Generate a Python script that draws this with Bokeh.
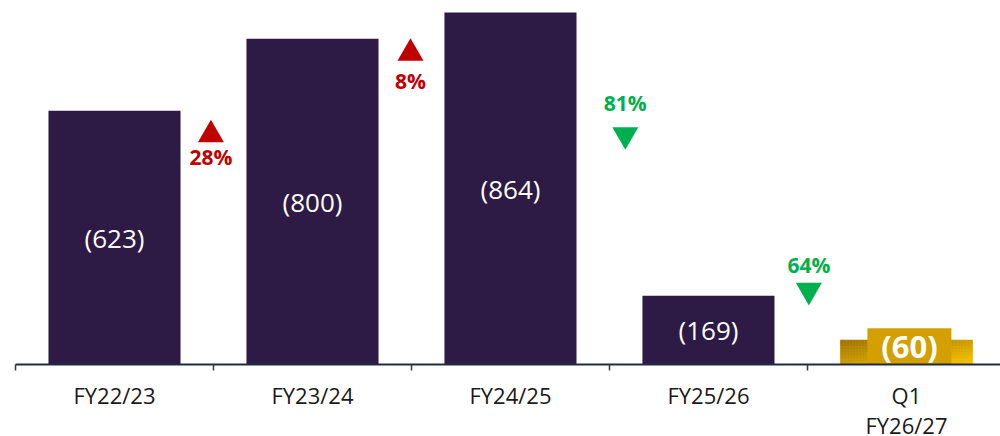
from bokeh.plotting import figure
from bokeh.models import Range1d, FixedTicker, ColumnDataSource
from bokeh.core.properties import value
from bokeh.embed import file_html
from bokeh.resources import INLINE
import numpy as np

# ---------------- data ----------------
categories = ["FY22/23", "FY23/24", "FY24/25", "FY25/26", "Q1\nFY26/27"]
values = [623, 800, 864, 169, 60]
value_labels = ["(623)", "(800)", "(864)", "(169)", "(60)"]
change_labels = ["28%", "8%", "81%", "64%"]
change_dirs = ["up", "up", "down", "down"]

# annotation anchors (data space)
change_x = [0.487, 1.495, 2.58, 3.507]
change_text_y = [510, 696, 641, 245]
change_marker_y = [564, 764, 564, 182]

# ---------------- styles ----------------
BAR = "#2D1B46"
AXIS = "#1F2A44"
RED = "#C00000"
GREEN = "#00B050"
GOLD_DARK = (0xA0, 0x74, 0x00)
GOLD_LIGHT = (0xFA, 0xC4, 0x00)
BAR_W = 0.667

p = figure(frame_width=985, frame_height=356,
           x_range=Range1d(-0.5, 4.475), y_range=Range1d(0, 874),
           output_backend="svg", toolbar_location=None,
           min_border_left=15, min_border_right=0, min_border_top=8,
           min_border_bottom=72)
p.outline_line_color = None
p.xgrid.visible = False
p.ygrid.visible = False
p.yaxis.visible = False
p.background_fill_color = "white"
p.border_fill_color = "white"

n = len(values)
idx = list(range(n))

# dark bars
dark = ColumnDataSource(dict(x=idx[:-1], top=values[:-1]))
p.vbar(x="x", top="top", width=BAR_W, source=dark, fill_color=BAR, line_color=None)

# gradient gold bar (last one)
gx = idx[-1]
gv = values[-1]
nx, ny = 44, 8
xs = np.linspace(gx - BAR_W / 2, gx + BAR_W / 2, nx + 1)
ys = np.linspace(0, gv, ny + 1)
L, R, B, T, C = [], [], [], [], []
for i in range(nx):
    for j in range(ny):
        u = (i + 0.5) / nx
        v = (j + 0.5) / ny
        t = (u + (1 - v)) / 2
        rgb = tuple(int(round(a + (b - a) * t)) for a, b in zip(GOLD_DARK, GOLD_LIGHT))
        L.append(xs[i]); R.append(xs[i + 1]); B.append(ys[j]); T.append(ys[j + 1])
        C.append("#%02x%02x%02x" % rgb)
p.quad(left=L, right=R, bottom=B, top=T, fill_color=C, line_color=C, line_width=0.6)

# value labels inside dark bars
lab = ColumnDataSource(dict(x=idx[:-1], y=[v / 2 for v in values[:-1]], t=value_labels[:-1]))
p.text(x="x", y="y", text="t", source=lab, text_align="center", text_baseline="middle",
       text_color="white", text_font=value("Open Sans"), text_font_size="26px")

# gold label with its own box
p.rect(x=[gx + 0.015], y=[gv / 2 + 14.5], width=84, height=36, width_units="screen",
       height_units="screen", fill_color="#D4A000", line_color=None)
p.text(x=[gx + 0.015], y=[gv / 2 + 14.5], text=[value_labels[-1]], text_align="center",
       text_baseline="middle", text_color="white", text_font=value("Open Sans"),
       text_font_style="bold", text_font_size="31px")

# change annotations
colors = [RED if d == "up" else GREEN for d in change_dirs]
markers = ["triangle" if d == "up" else "inverted_triangle" for d in change_dirs]
ch = ColumnDataSource(dict(x=change_x, ty=change_text_y, my=change_marker_y,
                           t=change_labels, c=colors, m=markers))
p.scatter(x="x", y="my", marker="m", size=26, fill_color="c", line_color=None, source=ch)
p.text(x="x", y="ty", text="t", source=ch, text_align="center", text_baseline="middle",
       text_color="c", text_font=value("Open Sans"), text_font_style="bold",
       text_font_size="21px")

# x axis
ax = p.xaxis[0]
ax.ticker = FixedTicker(ticks=idx, minor_ticks=[i - 0.5 for i in idx])
ax.major_label_overrides = {i: c for i, c in enumerate(categories)}
ax.axis_line_color = AXIS
ax.axis_line_width = 2
ax.major_tick_out = 0
ax.major_tick_in = 0
ax.major_tick_line_color = None
ax.minor_tick_out = 6
ax.minor_tick_in = 0
ax.minor_tick_line_color = "#333a4a"
ax.minor_tick_line_width = 1.5
ax.major_label_standoff = 9
ax.major_label_text_font = "Open Sans"
ax.major_label_text_font_size = "22px"
ax.major_label_text_line_height = 1.0
ax.major_label_text_color = "#1a1a1a"

open("out.html", "w").write(file_html(p, INLINE))
